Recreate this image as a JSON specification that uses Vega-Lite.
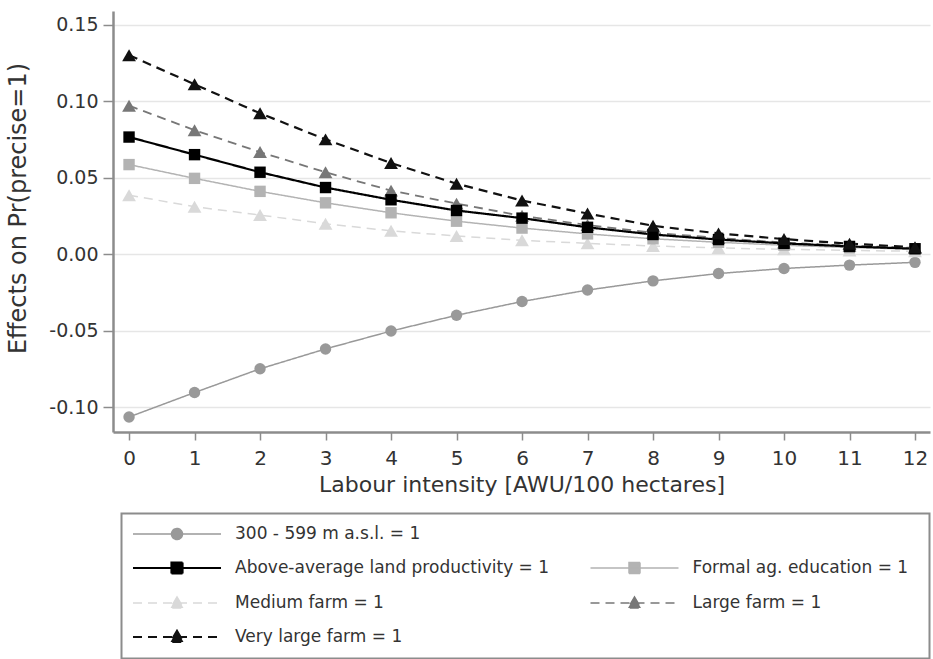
{
  "$schema": "https://vega.github.io/schema/vega-lite/v6.json",
  "width": 817,
  "height": 421,
  "autosize": {"type": "none"},
  "padding": {"left": 113, "top": 11, "right": 3, "bottom": 227},
  "background": "white",
  "config": {"view": {"stroke": null}, "font": "DejaVu Sans"},
  "data": {"values": [
    {"x":0,"series":"300 - 599 m a.s.l. = 1","y":-0.1065},{"x":1,"series":"300 - 599 m a.s.l. = 1","y":-0.0905},{"x":2,"series":"300 - 599 m a.s.l. = 1","y":-0.075},{"x":3,"series":"300 - 599 m a.s.l. = 1","y":-0.062},{"x":4,"series":"300 - 599 m a.s.l. = 1","y":-0.0503},{"x":5,"series":"300 - 599 m a.s.l. = 1","y":-0.040},{"x":6,"series":"300 - 599 m a.s.l. = 1","y":-0.031},{"x":7,"series":"300 - 599 m a.s.l. = 1","y":-0.0235},{"x":8,"series":"300 - 599 m a.s.l. = 1","y":-0.0175},{"x":9,"series":"300 - 599 m a.s.l. = 1","y":-0.0127},{"x":10,"series":"300 - 599 m a.s.l. = 1","y":-0.0094},{"x":11,"series":"300 - 599 m a.s.l. = 1","y":-0.0072},{"x":12,"series":"300 - 599 m a.s.l. = 1","y":-0.0054},
    {"x":0,"series":"Medium farm = 1","y":0.0385},{"x":1,"series":"Medium farm = 1","y":0.031},{"x":2,"series":"Medium farm = 1","y":0.0255},{"x":3,"series":"Medium farm = 1","y":0.0198},{"x":4,"series":"Medium farm = 1","y":0.0152},{"x":5,"series":"Medium farm = 1","y":0.0118},{"x":6,"series":"Medium farm = 1","y":0.009},{"x":7,"series":"Medium farm = 1","y":0.007},{"x":8,"series":"Medium farm = 1","y":0.0053},{"x":9,"series":"Medium farm = 1","y":0.004},{"x":10,"series":"Medium farm = 1","y":0.0031},{"x":11,"series":"Medium farm = 1","y":0.0024},{"x":12,"series":"Medium farm = 1","y":0.0018},
    {"x":0,"series":"Formal ag. education = 1","y":0.0585},{"x":1,"series":"Formal ag. education = 1","y":0.0495},{"x":2,"series":"Formal ag. education = 1","y":0.041},{"x":3,"series":"Formal ag. education = 1","y":0.0335},{"x":4,"series":"Formal ag. education = 1","y":0.027},{"x":5,"series":"Formal ag. education = 1","y":0.0215},{"x":6,"series":"Formal ag. education = 1","y":0.017},{"x":7,"series":"Formal ag. education = 1","y":0.0132},{"x":8,"series":"Formal ag. education = 1","y":0.010},{"x":9,"series":"Formal ag. education = 1","y":0.0077},{"x":10,"series":"Formal ag. education = 1","y":0.0058},{"x":11,"series":"Formal ag. education = 1","y":0.0043},{"x":12,"series":"Formal ag. education = 1","y":0.0032},
    {"x":0,"series":"Large farm = 1","y":0.097},{"x":1,"series":"Large farm = 1","y":0.081},{"x":2,"series":"Large farm = 1","y":0.0667},{"x":3,"series":"Large farm = 1","y":0.0535},{"x":4,"series":"Large farm = 1","y":0.0415},{"x":5,"series":"Large farm = 1","y":0.033},{"x":6,"series":"Large farm = 1","y":0.025},{"x":7,"series":"Large farm = 1","y":0.019},{"x":8,"series":"Large farm = 1","y":0.014},{"x":9,"series":"Large farm = 1","y":0.0105},{"x":10,"series":"Large farm = 1","y":0.0075},{"x":11,"series":"Large farm = 1","y":0.0055},{"x":12,"series":"Large farm = 1","y":0.004},
    {"x":0,"series":"Above-average land productivity = 1","y":0.0765},{"x":1,"series":"Above-average land productivity = 1","y":0.065},{"x":2,"series":"Above-average land productivity = 1","y":0.0535},{"x":3,"series":"Above-average land productivity = 1","y":0.0435},{"x":4,"series":"Above-average land productivity = 1","y":0.0355},{"x":5,"series":"Above-average land productivity = 1","y":0.0285},{"x":6,"series":"Above-average land productivity = 1","y":0.0235},{"x":7,"series":"Above-average land productivity = 1","y":0.0175},{"x":8,"series":"Above-average land productivity = 1","y":0.0128},{"x":9,"series":"Above-average land productivity = 1","y":0.0095},{"x":10,"series":"Above-average land productivity = 1","y":0.007},{"x":11,"series":"Above-average land productivity = 1","y":0.005},{"x":12,"series":"Above-average land productivity = 1","y":0.0035},
    {"x":0,"series":"Very large farm = 1","y":0.130},{"x":1,"series":"Very large farm = 1","y":0.111},{"x":2,"series":"Very large farm = 1","y":0.092},{"x":3,"series":"Very large farm = 1","y":0.075},{"x":4,"series":"Very large farm = 1","y":0.0595},{"x":5,"series":"Very large farm = 1","y":0.046},{"x":6,"series":"Very large farm = 1","y":0.035},{"x":7,"series":"Very large farm = 1","y":0.0265},{"x":8,"series":"Very large farm = 1","y":0.0185},{"x":9,"series":"Very large farm = 1","y":0.0135},{"x":10,"series":"Very large farm = 1","y":0.0098},{"x":11,"series":"Very large farm = 1","y":0.0068},{"x":12,"series":"Very large farm = 1","y":0.0045}
  ]},
  "encoding": {
    "x": {"field": "x", "type": "quantitative",
      "scale": {"domain": [-0.245, 12.229], "nice": false, "zero": false},
      "axis": {"title": "Labour intensity [AWU/100 hectares]", "values": [0,1,2,3,4,5,6,7,8,9,10,11,12], "format": "d", "grid": false,
        "domainColor": "#8c8c8c", "domainWidth": 2.5, "tickColor": "#8c8c8c", "tickWidth": 1.5, "tickSize": 8,
        "labelFont": "DejaVu Sans", "labelFontSize": 20, "labelColor": "#333333", "labelPadding": 8,
        "titleFont": "DejaVu Sans", "titleFontSize": 22, "titleFontWeight": "normal", "titleColor": "#333333", "titlePadding": 6}},
    "y": {"field": "y", "type": "quantitative",
      "scale": {"domain": [-0.1163, 0.1589], "nice": false, "zero": false},
      "axis": {"title": "Effects on Pr(precise=1)", "values": [-0.1,-0.05,0,0.05,0.1,0.15], "format": ".2f",
        "labelExpr": "replace(datum.label, '\u2212', '-')",
        "grid": true, "gridColor": "#e6e6e6", "gridWidth": 1.5,
        "domainColor": "#8c8c8c", "domainWidth": 2.5, "tickColor": "#8c8c8c", "tickWidth": 1.5, "tickSize": 10,
        "labelFont": "DejaVu Sans", "labelFontSize": 19, "labelColor": "#333333", "labelPadding": 5,
        "titleFont": "DejaVu Sans", "titleFontSize": 24, "titleFontWeight": "normal", "titleColor": "#333333", "titlePadding": 18, "titleY": 197}},
    "color": {"field": "series", "type": "nominal",
      "scale": {"domain": ["300 - 599 m a.s.l. = 1", " ", "Above-average land productivity = 1", "Formal ag. education = 1", "Medium farm = 1", "Large farm = 1", "Very large farm = 1"],
                "range": ["#999999", "#ffffff", "#000000", "#b3b3b3", "#d9d9d9", "#777777", "#111111"]},
      "legend": {
        "orient": "none", "legendX": 8.5, "legendY": 502.5, "columns": 2, "direction": "horizontal", "title": null,
        "padding": 12, "strokeColor": "#8c8c8c", "fillColor": "#ffffff",
        "symbolSize": 100, "symbolOffset": 35, "labelOffset": 49.5,
        "labelFont": "DejaVu Sans", "labelFontSize": 17, "labelColor": "#333333", "labelLimit": 500,
        "rowPadding": 15, "columnPadding": 37.5,
        "encode": {
          "legend": {"update": {"strokeWidth": {"value": 2}}},
          "symbols": {"update": {
            "shape": {"signal": "datum.value === ' ' ? 'M0,0M56,0' : datum.value === '300 - 599 m a.s.l. = 1' ? 'M-8.8,0H8.8M-1.1,0A1.1,1.1,0,1,0,1.1,0A1.1,1.1,0,1,0,-1.1,0Z' : (datum.value === 'Above-average land productivity = 1' || datum.value === 'Formal ag. education = 1') ? 'M-8.8,0H8.8M-1.1,-1.1H1.1V1.1H-1.1Z' : 'M-8.8,0H8.8M0,-1.2L1.3,1L-1.3,1Z'"},
            "fill": {"scale": "color", "field": "value"},
            "stroke": {"scale": "color", "field": "value"},
            "strokeDash": {"signal": "indexof(['Medium farm = 1','Large farm = 1','Very large farm = 1'], datum.value) >= 0 ? [9,6] : [1,0]"},
            "strokeWidth": {"signal": "(datum.value === 'Above-average land productivity = 1' || datum.value === 'Very large farm = 1') ? 2.2 : 1.5"},
            "size": {"value": 100},
            "opacity": {"value": 1},
            "fillOpacity": {"value": 1},
            "strokeOpacity": {"value": 1}
          }}
        }
      }}
  },
  "layer": [
    {"mark": {"type": "line"},
     "encoding": {
       "strokeDash": {"field": "series", "type": "nominal",
         "scale": {"domain": ["300 - 599 m a.s.l. = 1", "Above-average land productivity = 1", "Formal ag. education = 1", "Medium farm = 1", "Large farm = 1", "Very large farm = 1"],
                   "range": [[1,0],[1,0],[1,0],[9,6],[9,6],[9,6]]}, "legend": null},
       "strokeWidth": {"field": "series", "type": "nominal",
         "scale": {"type": "ordinal", "domain": ["300 - 599 m a.s.l. = 1", "Above-average land productivity = 1", "Formal ag. education = 1", "Medium farm = 1", "Large farm = 1", "Very large farm = 1"],
                   "range": [1.5, 2.2, 1.5, 1.5, 1.8, 2.2]}, "legend": null}
     }},
    {"mark": {"type": "point", "filled": true, "opacity": 1},
     "encoding": {
       "shape": {"field": "series", "type": "nominal",
         "scale": {"domain": ["300 - 599 m a.s.l. = 1", "Above-average land productivity = 1", "Formal ag. education = 1", "Medium farm = 1", "Large farm = 1", "Very large farm = 1"],
                   "range": ["circle", "square", "square", "triangle-up", "triangle-up", "triangle-up"]}, "legend": null},
       "size": {"field": "series", "type": "nominal",
         "scale": {"type": "ordinal", "domain": ["300 - 599 m a.s.l. = 1", "Above-average land productivity = 1", "Formal ag. education = 1", "Medium farm = 1", "Large farm = 1", "Very large farm = 1"],
                   "range": [130, 130, 130, 190, 190, 190]}, "legend": null}
     }}
  ]
}
